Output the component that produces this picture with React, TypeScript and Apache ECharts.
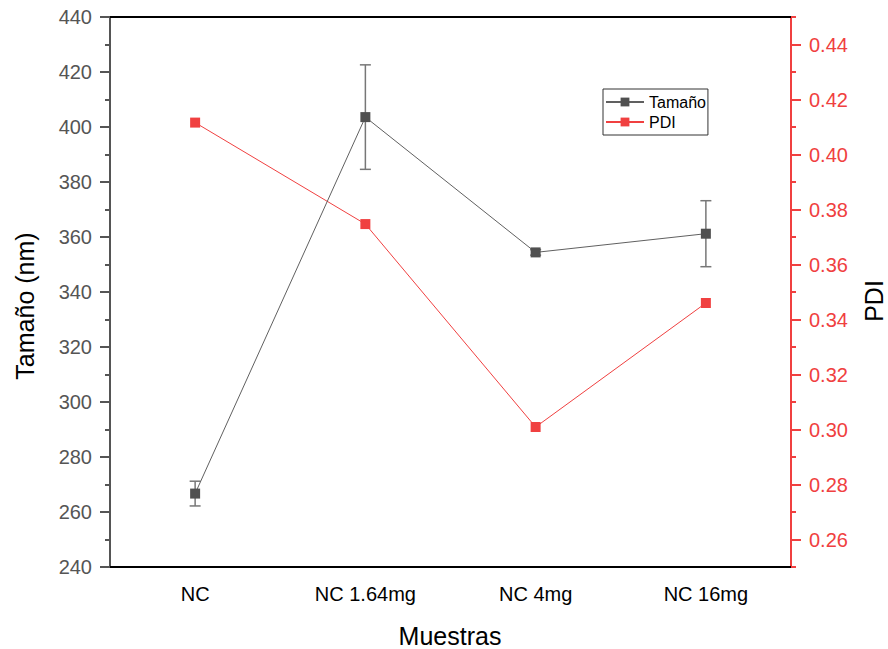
import React, { useEffect, useRef } from "react";
import * as echarts from "echarts";

// Samples along the category axis
const categories = ["NC", "NC 1.64mg", "NC 4mg", "NC 16mg"];
// Particle size (nm) and its standard deviation
const tamano = [266.7, 403.6, 354.4, 361.2];
const tamanoErr = [4.5, 19, 1, 12];
// Polydispersity index
const pdi = [0.4116, 0.3747, 0.3009, 0.346];
// Right axis tick values
const pdiMajor = [0.26, 0.28, 0.3, 0.32, 0.34, 0.36, 0.38, 0.4, 0.42, 0.44];
const pdiMinor = [0.25, 0.27, 0.29, 0.31, 0.33, 0.35, 0.37, 0.39, 0.41, 0.43, 0.45];

const GRAY = "#505050";
const RED = "#f04040";
const FONT = "'Liberation Sans', Arial, sans-serif";

export default function App() {
  const ref = useRef<HTMLDivElement>(null);

  useEffect(() => {
    document.body.style.margin = "0";
    const chart = echarts.init(ref.current!, null, { renderer: "svg" });

    const errData = tamano.map((v, i) => [i, v - tamanoErr[i], v + tamanoErr[i]]);

    chart.setOption({
      animation: false,
      backgroundColor: "#fff",
      textStyle: { fontFamily: FONT },
      grid: { left: 110, right: 97, top: 17, bottom: 82 },
      legend: {
        data: ["Tamaño", "PDI"],
        orient: "vertical",
        left: 603,
        top: 89,
        padding: [5, 2, 5, 2],
        borderColor: "#333",
        borderWidth: 1,
        itemWidth: 38,
        itemHeight: 11,
        itemGap: 4,
        textStyle: { fontSize: 16, color: "#000", fontFamily: FONT },
      },
      xAxis: [
        {
          type: "category",
          data: categories,
          position: "bottom",
          boundaryGap: true,
          axisLine: { lineStyle: { color: "#000", width: 2 } },
          axisTick: { alignWithLabel: true, length: 10, lineStyle: { color: "#000", width: 2 } },
          axisLabel: { fontSize: 20, color: "#000", margin: 17, fontFamily: FONT },
          splitLine: { show: false },
        },
        {
          type: "category",
          data: categories,
          position: "bottom",
          boundaryGap: true,
          axisLine: { show: false },
          axisTick: { alignWithLabel: false, length: 5, lineStyle: { color: "#000", width: 2 } },
          axisLabel: { show: false },
          splitLine: { show: false },
        },
        {
          type: "category",
          data: categories,
          position: "top",
          boundaryGap: true,
          axisLine: { lineStyle: { color: "#000", width: 2 } },
          axisTick: { alignWithLabel: true, inside: true, length: 10, lineStyle: { color: "#000", width: 2 } },
          axisLabel: { show: false },
          splitLine: { show: false },
        },
      ],
      yAxis: [
        {
          type: "value",
          position: "left",
          min: 240,
          max: 440,
          interval: 20,
          axisLine: { show: true, lineStyle: { color: "#555", width: 2 } },
          axisTick: { show: true, length: 10, lineStyle: { color: "#555", width: 2 } },
          minorTick: { show: true, splitNumber: 2, length: 5, lineStyle: { color: "#555", width: 2 } },
          axisLabel: { fontSize: 20, color: "#555", margin: 18, fontFamily: FONT },
          splitLine: { show: false },
        },
        {
          type: "value",
          position: "right",
          min: 0.25,
          max: 0.45,
          axisLine: { show: true, lineStyle: { color: RED, width: 2 } },
          axisTick: { show: true, length: 10, customValues: pdiMajor, lineStyle: { color: RED, width: 2 } },
          axisLabel: {
            fontSize: 20,
            color: RED,
            margin: 18,
            fontFamily: FONT,
            customValues: pdiMajor,
            formatter: (v: number) => v.toFixed(2),
          },
          splitLine: { show: false },
        },
        {
          type: "value",
          position: "right",
          min: 0.25,
          max: 0.45,
          axisLine: { show: false },
          axisTick: { show: true, length: 5, customValues: pdiMinor, lineStyle: { color: RED, width: 2 } },
          axisLabel: { show: false },
          splitLine: { show: false },
        },
      ],
      series: [
        {
          name: "PDI",
          type: "line",
          xAxisIndex: 0,
          yAxisIndex: 1,
          data: pdi,
          symbol: "rect",
          symbolSize: 10,
          itemStyle: { color: RED },
          lineStyle: { color: RED, width: 1 },
          z: 2,
        },
        {
          name: "Tamaño error",
          type: "custom",
          xAxisIndex: 0,
          yAxisIndex: 0,
          data: errData,
          z: 3,
          renderItem: (params: any, api: any) => {
            const i = api.value(0);
            const lo = api.coord([i, api.value(1)]);
            const hi = api.coord([i, api.value(2)]);
            const w = 5.5;
            const style = { stroke: "#777", lineWidth: 1.5 };
            return {
              type: "group",
              children: [
                { type: "line", shape: { x1: lo[0], y1: lo[1], x2: hi[0], y2: hi[1] }, style },
                { type: "line", shape: { x1: lo[0] - w, y1: lo[1], x2: lo[0] + w, y2: lo[1] }, style },
                { type: "line", shape: { x1: hi[0] - w, y1: hi[1], x2: hi[0] + w, y2: hi[1] }, style },
              ],
            };
          },
        },
        {
          name: "Tamaño",
          type: "line",
          xAxisIndex: 0,
          yAxisIndex: 0,
          data: tamano,
          symbol: "rect",
          symbolSize: 10,
          itemStyle: { color: GRAY },
          lineStyle: { color: "#606060", width: 1 },
          z: 4,
        },
      ],
      graphic: [
        {
          type: "text",
          x: 25,
          y: 306,
          rotation: Math.PI / 2,
          style: {
            text: "Tamaño (nm)",
            fontSize: 25,
            fontFamily: FONT,
            fill: "#000",
            align: "center",
            verticalAlign: "middle",
          },
        },
        {
          type: "text",
          x: 874,
          y: 301,
          rotation: Math.PI / 2,
          style: {
            text: "PDI",
            fontSize: 25,
            fontFamily: FONT,
            fill: "#000",
            align: "center",
            verticalAlign: "middle",
          },
        },
        {
          type: "text",
          x: 450,
          y: 636,
          style: {
            text: "Muestras",
            fontSize: 25,
            fontFamily: FONT,
            fill: "#000",
            align: "center",
            verticalAlign: "middle",
          },
        },
      ],
    });

    return () => chart.dispose();
  }, []);

  return <div ref={ref} style={{ width: 888, height: 649 }} />;
}
